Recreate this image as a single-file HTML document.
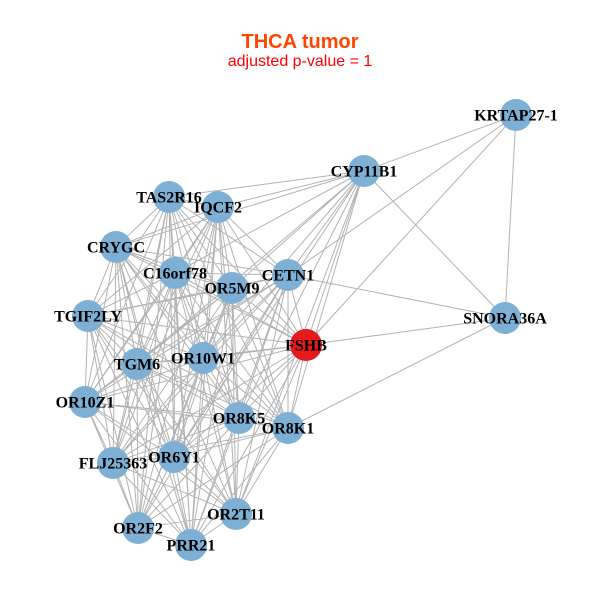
<!DOCTYPE html>
<html><head><meta charset="utf-8"><style>
html,body{margin:0;padding:0;background:#fff;}
svg{display:block;}
.lb{font-family:"Liberation Serif",serif;font-weight:bold;font-size:16px;fill:#000;text-anchor:middle;}
</style></head><body>
<svg width="600" height="600" viewBox="0 0 600 600" xmlns="http://www.w3.org/2000/svg">
<rect width="600" height="600" fill="#fff"/>
<text x="300" y="48" text-anchor="middle" font-family="Liberation Sans, sans-serif" font-weight="bold" font-size="20" fill="#ff4500">THCA tumor</text>
<text x="300" y="66" text-anchor="middle" font-family="Liberation Sans, sans-serif" font-size="16" fill="#ff0000">adjusted p-value = 1</text>
<path fill="none" stroke="#b3b3b3" stroke-width="1" d="
M169 197L218 207M169 197L116 247M169 197L175 273M169 197L232 288M169 197L288 275M169 197L88 316M169 197L306 345M169 197L203 358M169 197L137 364M169 197L85 402M169 197L239 418M169 197L288 428M169 197L113 463M169 197L174 457M169 197L236 514M169 197L138 528M169 197L191 545
M218 207L116 247M218 207L175 273M218 207L232 288M218 207L288 275M218 207L88 316M218 207L306 345M218 207L203 358M218 207L137 364M218 207L85 402M218 207L239 418M218 207L288 428M218 207L113 463M218 207L174 457M218 207L236 514M218 207L138 528M218 207L191 545
M116 247L175 273M116 247L232 288M116 247L288 275M116 247L88 316M116 247L306 345M116 247L203 358M116 247L137 364M116 247L85 402M116 247L239 418M116 247L288 428M116 247L113 463M116 247L174 457M116 247L236 514M116 247L138 528M116 247L191 545
M175 273L232 288M175 273L288 275M175 273L88 316M175 273L306 345M175 273L203 358M175 273L137 364M175 273L85 402M175 273L239 418M175 273L288 428M175 273L113 463M175 273L174 457M175 273L236 514M175 273L138 528M175 273L191 545
M232 288L288 275M232 288L88 316M232 288L306 345M232 288L203 358M232 288L137 364M232 288L85 402M232 288L239 418M232 288L288 428M232 288L113 463M232 288L174 457M232 288L236 514M232 288L138 528M232 288L191 545
M288 275L88 316M288 275L306 345M288 275L203 358M288 275L137 364M288 275L85 402M288 275L239 418M288 275L288 428M288 275L113 463M288 275L174 457M288 275L236 514M288 275L138 528M288 275L191 545
M88 316L306 345M88 316L203 358M88 316L137 364M88 316L85 402M88 316L239 418M88 316L288 428M88 316L113 463M88 316L174 457M88 316L236 514M88 316L138 528M88 316L191 545
M306 345L203 358M306 345L137 364M306 345L85 402M306 345L239 418M306 345L288 428M306 345L113 463M306 345L174 457M306 345L236 514M306 345L138 528M306 345L191 545
M203 358L137 364M203 358L85 402M203 358L239 418M203 358L288 428M203 358L113 463M203 358L174 457M203 358L236 514M203 358L138 528M203 358L191 545
M137 364L85 402M137 364L239 418M137 364L288 428M137 364L113 463M137 364L174 457M137 364L236 514M137 364L138 528M137 364L191 545
M85 402L239 418M85 402L288 428M85 402L113 463M85 402L174 457M85 402L236 514M85 402L138 528M85 402L191 545
M239 418L288 428M239 418L113 463M239 418L174 457M239 418L236 514M239 418L138 528M239 418L191 545
M288 428L113 463M288 428L174 457M288 428L236 514M288 428L138 528M288 428L191 545
M113 463L174 457M113 463L236 514M113 463L138 528M113 463L191 545
M174 457L236 514M174 457L138 528M174 457L191 545
M236 514L138 528M236 514L191 545
M138 528L191 545
M364 171L169 197M364 171L218 207M364 171L116 247M364 171L175 273M364 171L232 288M364 171L288 275M364 171L306 345M364 171L203 358M364 171L137 364M364 171L239 418M364 171L288 428M364 171L174 457M364 171L236 514
M364 171L516 115M364 171L505 318
M516 115L288 275M516 115L306 345M516 115L505 318
M505 318L288 275M505 318L306 345M505 318L288 428
"/>
<g fill="#7eb0d5">
<circle cx="516" cy="115" r="16"/>
<circle cx="364" cy="171" r="16"/>
<circle cx="169" cy="197" r="16"/>
<circle cx="218" cy="207" r="16"/>
<circle cx="116" cy="247" r="16"/>
<circle cx="175" cy="273" r="16"/>
<circle cx="232" cy="288" r="16"/>
<circle cx="288" cy="275" r="16"/>
<circle cx="88" cy="316" r="16"/>
<circle cx="505" cy="318" r="16"/>
<circle cx="203" cy="358" r="16"/>
<circle cx="137" cy="364" r="16"/>
<circle cx="85" cy="402" r="16"/>
<circle cx="239" cy="418" r="16"/>
<circle cx="288" cy="428" r="16"/>
<circle cx="113" cy="463" r="16"/>
<circle cx="174" cy="457" r="16"/>
<circle cx="236" cy="514" r="16"/>
<circle cx="138" cy="528" r="16"/>
<circle cx="191" cy="545" r="16"/>
</g>
<circle cx="306" cy="345" r="16" fill="#e41a1c"/>
<text class="lb" x="516" y="120.5">KRTAP27-1</text>
<text class="lb" x="364" y="176.5">CYP11B1</text>
<text class="lb" x="169" y="202.5">TAS2R16</text>
<text class="lb" x="218" y="212.5">IQCF2</text>
<text class="lb" x="116" y="252.5">CRYGC</text>
<text class="lb" x="175" y="278.5">C16orf78</text>
<text class="lb" x="232" y="293.5">OR5M9</text>
<text class="lb" x="288" y="280.5">CETN1</text>
<text class="lb" x="88" y="321.5">TGIF2LY</text>
<text class="lb" x="505" y="323.5">SNORA36A</text>
<text class="lb" x="306" y="350.5">FSHB</text>
<text class="lb" x="203" y="363.5">OR10W1</text>
<text class="lb" x="137" y="369.5">TGM6</text>
<text class="lb" x="85" y="407.5">OR10Z1</text>
<text class="lb" x="239" y="423.5">OR8K5</text>
<text class="lb" x="288" y="433.5">OR8K1</text>
<text class="lb" x="113" y="468.5">FLJ25363</text>
<text class="lb" x="174" y="462.5">OR6Y1</text>
<text class="lb" x="236" y="519.5">OR2T11</text>
<text class="lb" x="138" y="533.5">OR2F2</text>
<text class="lb" x="191" y="550.5">PRR21</text>
</svg>
</body></html>
